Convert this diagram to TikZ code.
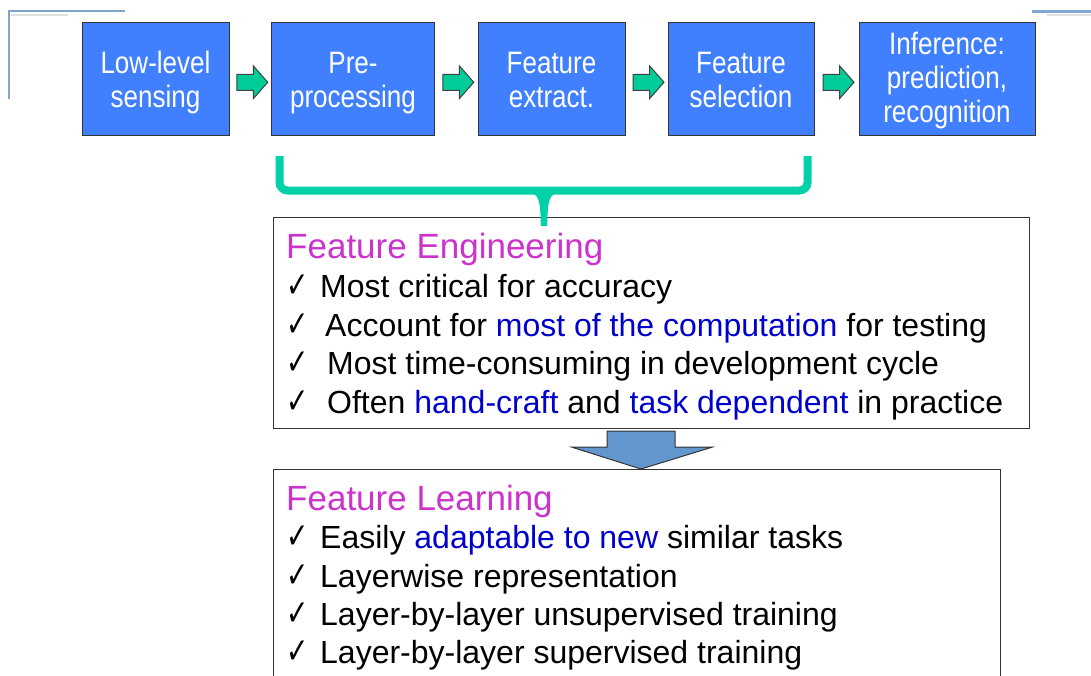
\documentclass[tikz,border=0pt]{standalone}
\usepackage{fontspec}
\setmainfont{Liberation Sans}
\newfontfamily\dejavu{DejaVu Sans}
\usetikzlibrary{calc}
\definecolor{boxblue}{HTML}{4080FF}
\definecolor{arrgreen}{HTML}{00CC99}
\definecolor{bracegreen}{HTML}{00D1A8}
\definecolor{headmag}{HTML}{CC33CC}
\definecolor{txtblue}{HTML}{0000CC}
\definecolor{bigarrow}{HTML}{6396CD}
\definecolor{framelines}{HTML}{7FA6CC}
\newcommand\boxtxt[2][5pt]{\raisebox{-#1}[\height][\depth]{\scalebox{0.84}[1]{\begin{tabular}{@{}c@{}}#2\end{tabular}}}}
\newcommand\ck{\scalebox{0.74}[1]{\dejavu\bfseries\fontsize{36}{40}\selectfont ✓}}
\begin{document}
\begin{tikzpicture}[x=1pt,y=-1pt,
  stage/.style={draw=black!80, line width=1pt, fill=boxblue, text=white, inner sep=0pt,
    font=\fontsize{31}{34}\selectfont, minimum height=113.5pt},
  garr/.style={draw=black!75, line width=1pt, fill=arrgreen},
  panel/.style={draw=black!80, line width=1.2pt, fill=white, inner sep=0pt, anchor=north west},
  lnx/.style={anchor=base west, inner sep=0pt, font=\fontsize{32}{36}\selectfont},
  hdx/.style={anchor=base west, inner sep=0pt, font=\fontsize{35}{40}\selectfont, text=headmag},
  chk/.style={anchor=base west, inner sep=0pt},
  bracestyle/.style={draw=bracegreen, line width=8pt, rounded corners=8pt},
]
\useasboundingbox (0,0) rectangle (1091,675);
\fill[white] (0,0) rectangle (1091,675);

% frame lines
\draw[black!12, line width=2pt] (11,14.5) -- (68,14.5);
\draw[framelines, line width=2.6pt] (9,99) -- (9,11) -- (125,11);
\draw[black!12, line width=2pt] (1047,15) -- (1091,15);
\draw[framelines, line width=2.6pt] (1032,11.5) -- (1091,11.5);

% stages
\node[stage, minimum width=147pt] (b1) at (155.5,78.75) {\boxtxt{Low-level\\sensing}};
\node[stage, minimum width=163pt] (b2) at (353,78.75) {\boxtxt{Pre-\\processing}};
\node[stage, minimum width=147pt] (b3) at (551.5,78.75) {\boxtxt{Feature\\extract.}};
\node[stage, minimum width=146pt] (b4) at (741,78.75) {\boxtxt{Feature\\selection}};
\node[stage, minimum width=176pt] (b5) at (947,78.75) {\boxtxt[2.5pt]{Inference:\\prediction,\\recognition}};

% green arrows
\foreach \a/\b/\n in {b1/b2/g1, b2/b3/g2, b3/b4/g3, b4/b5/g4}{
  \coordinate (\n) at ($($(\a.east)!0.5!(\b.west)$)+(2,3.5)$);
  \draw[garr] ($(\n)+(-15.5,-8)$) -- ++(16.5,0) -- ++(0,-8.5) -- ($(\n)+(15.5,0)$)
     -- ($(\n)+(1,16.5)$) -- ++(0,-8.5) -- ++(-16.5,0) -- cycle;
}

% feature engineering panel
\node[panel, minimum width=756pt, minimum height=211pt] (eng) at (273,217) {};
\node[hdx] (e0) at (286,258) {Feature Engineering};
\node[chk] (c1) at (286,297) {\ck};
\node[lnx] (e1) at (320,297) {Most critical for accuracy};
\node[chk] (c2) at (286,336) {\ck};
\node[lnx] (e2) at (325,336) {Account for \textcolor{txtblue}{most of the computation} for testing};
\node[chk] (c3) at (286,374.5) {\ck};
\node[lnx] (e3) at (327,374.5) {Most time-consuming in development cycle};
\node[chk] (c4) at (286,413) {\ck};
\node[lnx] (e4) at (327,413) {Often \textcolor{txtblue}{hand-craft} and \textcolor{txtblue}{task dependent} in practice};

% brace
\draw[bracestyle] (279.5,156) -- (279.5,190.5) -- (807.5,190.5) -- (807.5,156);
\fill[bracegreen] (528,193) .. controls (538,193) and (540.5,198) .. (540.8,226)
   -- (547.2,226) .. controls (547.5,198) and (550,193) .. (560,193) -- cycle;

% feature learning panel
\node[panel, minimum width=727pt, minimum height=240pt] (lrn) at (273,469) {};
\node[hdx] (l0) at (286,510) {Feature Learning};
\node[chk] (d1) at (286,548) {\ck};
\node[lnx] (l1) at (320,548) {Easily \textcolor{txtblue}{adaptable to new} similar tasks};
\node[chk] (d2) at (286,587) {\ck};
\node[lnx] (l2) at (320,587) {Layerwise representation};
\node[chk] (d3) at (286,625.5) {\ck};
\node[lnx] (l3) at (320,625.5) {Layer-by-layer unsupervised training};
\node[chk] (d4) at (286,663.5) {\ck};
\node[lnx] (l4) at (320,663.5) {Layer-by-layer supervised training};

% big arrow between panels
\coordinate (ba) at (eng.south -| 641,0);
\coordinate (bt) at (lrn.north -| 641,0);
\draw[draw=black!80, line width=1pt, fill=bigarrow]
  ($(ba)+(-34,2)$) -- ($(ba)+(34,2)$) -- ($(ba)+(34,18)$) -- ($(ba)+(71,18)$)
  -- (bt) -- ($(ba)+(-69,18)$) -- ($(ba)+(-34,18)$) -- cycle;
\end{tikzpicture}
\end{document}
